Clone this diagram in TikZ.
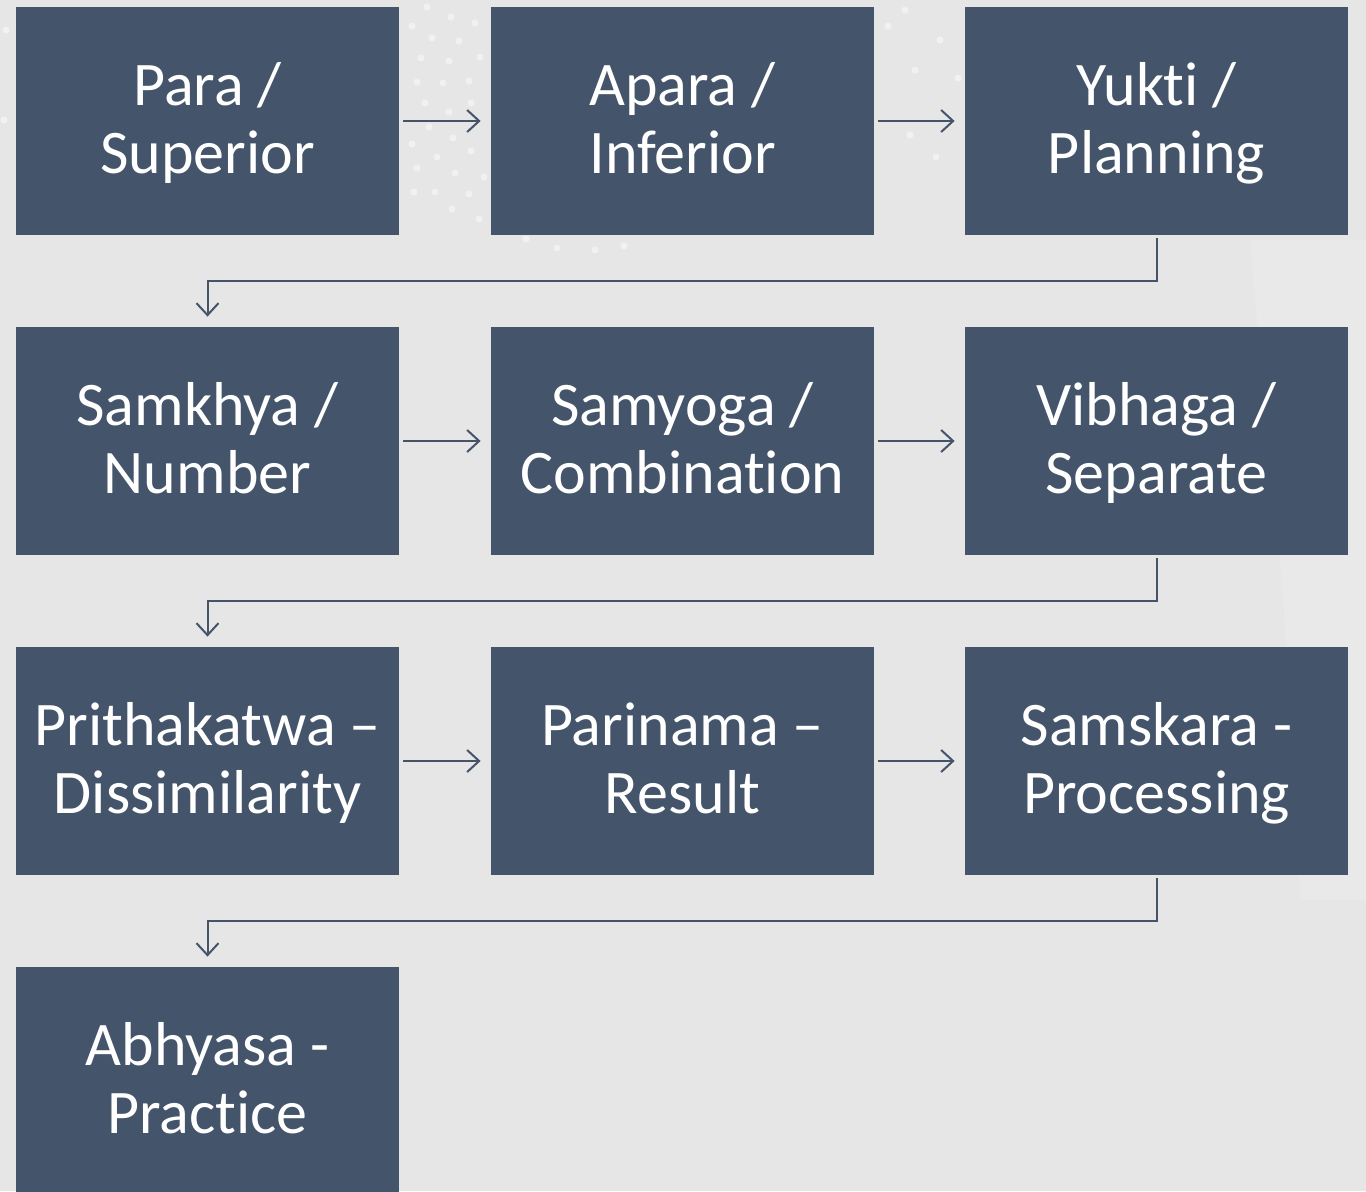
\documentclass[tikz,border=0pt]{standalone}
\usepackage{fontspec}
\setmainfont{Carlito}[Ligatures={NoCommon}]
\usetikzlibrary{arrows.meta,calc}
\definecolor{boxc}{HTML}{44546A}
\definecolor{bgc}{HTML}{E6E6E6}
\newcommand{\ls}{\rule[-8pt]{0pt}{34pt}}
\tikzset{
  stepbox/.style={rectangle, fill=boxc, draw=none, minimum width=191.5pt, minimum height=114pt,
    inner sep=0pt, align=center, text=white, font=\fontsize{31pt}{34pt}\selectfont},
  flow/.style={draw=boxc, line width=1pt, -{Straight Barb[length=6pt,width=11pt,line width=1pt]}},
  dot/.style={fill=white, opacity=0.45}
}
\begin{document}
\begin{tikzpicture}[x=0.5pt,y=-0.5pt]
\useasboundingbox (0,0) rectangle (1366,1191);
\fill[bgc] (0,0) rectangle (1366,1191);
\fill[white,opacity=0.12] (1250,240) .. controls (1262,400) and (1290,600) .. (1300,900) -- (1366,900) -- (1366,240) -- cycle;
\foreach \px/\py in {427/7,451/17,412/26,475/23,432/38,459/41,421/58,449/61,480/57,417/82,443/83,469/81,425/103,449/112,471/103,429/127,453/138,412/144,471/151,437/157,417/168,455/173,484/177,414/192,435/192,469/194,452/209,479/219,526/239,557/248,595/250,624/246,888/26,915/70,910/135,936/157,958/78,905/10,940/40,6/30,4/120}
  \fill[dot] (\px,\py) circle (3.5);

\node[stepbox] (n1) at (207.5,121) {\ls Para /\\\ls Superior};
\node[stepbox] (n2) at (682.5,121) {\ls Apara /\\\ls Inferior};
\node[stepbox] (n3) at (1156.5,121) {\ls Yukti /\\\ls Planning};
\node[stepbox] (n4) at (207.5,441) {\ls Samkhya /\\\ls Number};
\node[stepbox] (n5) at (682.5,441) {\ls Samyoga /\\\ls Combination};
\node[stepbox] (n6) at (1156.5,441) {\ls Vibhaga /\\\ls Separate};
\node[stepbox] (n7) at (207.5,761) {\ls Prithakatwa –\\\ls Dissimilarity};
\node[stepbox] (n8) at (682.5,761) {\ls Parinama –\\\ls Result};
\node[stepbox] (n9) at (1156.5,761) {\ls Samskara -\\\ls Processing};
\node[stepbox] (n10) at (207.5,1081) {\ls Abhyasa -\\\ls Practice};

\draw[flow, shorten <=2pt, shorten >=5pt] (n1) -- (n2);
\draw[flow, shorten <=2pt, shorten >=5pt] (n2) -- (n3);
\draw[flow, shorten <=2pt, shorten >=5pt] (n4) -- (n5);
\draw[flow, shorten <=2pt, shorten >=5pt] (n5) -- (n6);
\draw[flow, shorten <=2pt, shorten >=5pt] (n7) -- (n8);
\draw[flow, shorten <=2pt, shorten >=5pt] (n8) -- (n9);

\draw[flow, shorten <=1.5pt, shorten >=5pt] (n3.south) |- ($(n3.south)!0.5!(n4.north)$) -| (n4.north);
\draw[flow, shorten <=1.5pt, shorten >=5pt] (n6.south) |- ($(n6.south)!0.5!(n7.north)$) -| (n7.north);
\draw[flow, shorten <=1.5pt, shorten >=5pt] (n9.south) |- ($(n9.south)!0.5!(n10.north)$) -| (n10.north);
\end{tikzpicture}
\end{document}
